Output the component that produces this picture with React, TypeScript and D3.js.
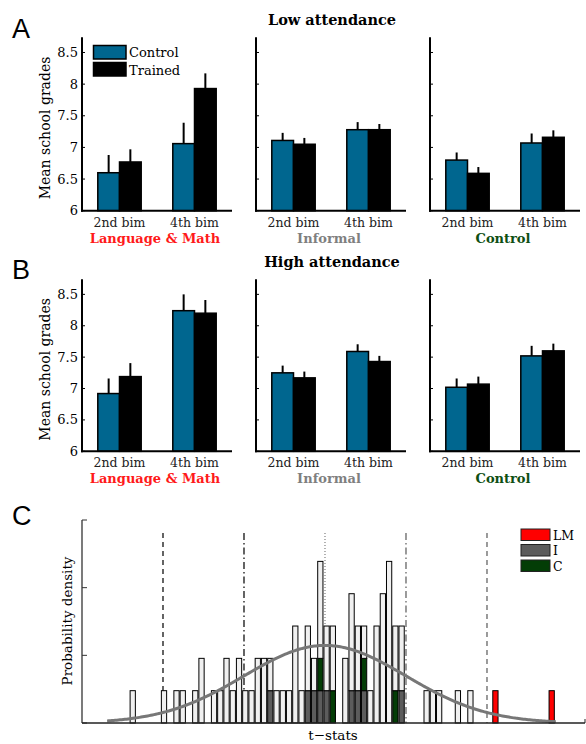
import * as d3 from 'd3';

// ---- panels A / B data ----
const bims = ['2nd bim', '4th bim'];
const groups = ['Language & Math', 'Informal', 'Control'];
const groupColors = ['#ff1a1a', '#7f7f7f', '#0e4f12'];
const gradeTicks = [6, 6.5, 7, 7.5, 8, 8.5];

// per group: [2nd bim, 4th bim]
const lowControlMean = [[6.6, 7.06], [7.11, 7.28], [6.8, 7.07]];
const lowControlSem = [[0.28, 0.33], [0.12, 0.12], [0.12, 0.15]];
const lowTrainedMean = [[6.77, 7.93], [7.05, 7.28], [6.59, 7.16]];
const lowTrainedSem = [[0.2, 0.24], [0.1, 0.09], [0.1, 0.11]];

const highControlMean = [[6.92, 8.24], [7.25, 7.59], [7.02, 7.52]];
const highControlSem = [[0.24, 0.26], [0.115, 0.115], [0.14, 0.16]];
const highTrainedMean = [[7.19, 8.2], [7.17, 7.43], [7.07, 7.6]];
const highTrainedSem = [[0.215, 0.21], [0.1, 0.09], [0.12, 0.115]];

// ---- panel C data (histogram of t-stats) ----
const binIndex = [0, 5, 7, 8, 10, 11, 13, 14, 15, 16, 17, 18, 19, 20, 21, 22, 23, 24, 25, 26, 27, 28, 29, 30, 31, 32, 34, 35, 36, 37, 38, 39, 40, 41, 42, 43, 47, 48, 49, 52, 54, 58, 67];
const binTotal = [1, 1, 1, 1, 1, 2, 1, 1, 2, 1, 2, 1, 1, 2, 2, 2, 1, 1, 1, 3, 1, 3, 2, 5, 3, 3, 2, 4, 3, 3, 1, 3, 4, 5, 3, 3, 1, 1, 1, 1, 1, 1, 1];
const binI = [0, 0, 0, 0, 0, 0, 0, 0, 0, 0, 0, 0, 0, 0, 0, 1, 0, 0, 0, 0, 0, 1, 1, 1, 1, 0, 0, 1, 1, 1, 0, 0, 0, 0, 0, 1, 0, 0, 0, 0, 0, 0, 0];
const binC = [0, 0, 0, 0, 0, 0, 0, 0, 0, 0, 0, 0, 0, 0, 0, 0, 0, 0, 0, 0, 0, 0, 0, 1, 0, 1, 0, 0, 0, 1, 0, 0, 0, 0, 1, 0, 0, 0, 0, 0, 0, 0, 0];
const binLM = [0, 0, 0, 0, 0, 0, 0, 0, 0, 0, 0, 0, 0, 0, 0, 0, 0, 0, 0, 0, 0, 0, 0, 0, 0, 0, 0, 0, 0, 0, 0, 0, 0, 0, 0, 0, 0, 0, 0, 0, 0, 1, 1];
const binStart = -2.411;
const binWidth = 0.0772;
const fitPeak = 2.4; // counts
const fitRange = [-2.69, 2.86];
const cLegend = ['LM', 'I', 'C'];
const cLegendColors = ['#ff0000', '#5c5c5c', '#033d06'];

const SERIF = '"DejaVu Serif", serif';
const SANS = '"Liberation Sans", Arial, sans-serif';
const CTRL_BLUE = '#00668f';

const panelLefts = [82, 256, 430];
const panelW = 150;
const barW = 21.7;

function BarRow({
  baseY,
  topY,
  controlMean,
  controlSem,
  trainedMean,
  trainedSem,
  showLegend,
}: {
  baseY: number;
  topY: number;
  controlMean: number[][];
  controlSem: number[][];
  trainedMean: number[][];
  trainedSem: number[][];
  showLegend: boolean;
}) {
  const y = d3.scaleLinear().domain([6, 8.74]).range([baseY, topY]);
  return (
    <g>
      <text
        transform={`translate(50,${(baseY + topY) / 2 + 4}) rotate(-90)`}
        textAnchor="middle"
        fontFamily={SERIF}
        fontSize={14}
      >
        Mean school grades
      </text>
      {gradeTicks.map((t) => (
        <text key={t} x={78} y={y(t) + 4.5} textAnchor="end" fontFamily={SERIF} fontSize={13}>
          {t}
        </text>
      ))}
      {groups.map((gName, gi) => {
        const left = panelLefts[gi];
        const x = d3.scalePoint<string>().domain(bims).range([left, left + panelW]).padding(0.5);
        return (
          <g key={gName}>
            {bims.map((b, bi) => {
              const cx = x(b) as number;
              const cm = controlMean[gi][bi];
              const tm = trainedMean[gi][bi];
              return (
                <g key={b}>
                  <line x1={cx - barW / 2} x2={cx - barW / 2} y1={y(cm)} y2={y(cm + controlSem[gi][bi])} stroke="#000" strokeWidth={2} />
                  <line x1={cx + barW / 2} x2={cx + barW / 2} y1={y(tm)} y2={y(tm + trainedSem[gi][bi])} stroke="#000" strokeWidth={2} />
                  <rect x={cx - barW} y={y(cm)} width={barW} height={y(6) - y(cm)} fill={CTRL_BLUE} stroke="#000" strokeWidth={1.5} />
                  <rect x={cx} y={y(tm)} width={barW} height={y(6) - y(tm)} fill="#000" stroke="#000" strokeWidth={1.5} />
                  <text x={cx} y={baseY + 16} textAnchor="middle" fontFamily={SERIF} fontSize={12.5} fill="#222">
                    {b}
                  </text>
                </g>
              );
            })}
            {gradeTicks.map((t) => (
              <line key={t} x1={left} x2={left + 3} y1={y(t)} y2={y(t)} stroke="#000" strokeWidth={1} />
            ))}
            <line x1={left} x2={left} y1={baseY + 1} y2={topY} stroke="#000" strokeWidth={2} />
            <line x1={left - 1} x2={left + panelW} y1={baseY} y2={baseY} stroke="#000" strokeWidth={2} />
            <text
              x={left + panelW / 2 - 2}
              y={baseY + 32}
              textAnchor="middle"
              fontFamily={SERIF}
              fontWeight="bold"
              fontSize={13}
              fill={groupColors[gi]}
            >
              {gName}
            </text>
          </g>
        );
      })}
      {showLegend && (
        <g>
          <rect x={93.5} y={45.5} width={32.5} height={13.5} fill={CTRL_BLUE} stroke="#000" strokeWidth={1.5} />
          <rect x={93.5} y={62.5} width={32.5} height={13.5} fill="#000" stroke="#000" strokeWidth={1.5} />
          <text x={129} y={57} fontFamily={SERIF} fontSize={13}>Control</text>
          <text x={129} y={74.5} fontFamily={SERIF} fontSize={13}>Trained</text>
        </g>
      )}
    </g>
  );
}

function HistPanel() {
  const x = d3.scaleLinear().domain([-3, 3.21]).range([82, 585]);
  const y = d3.scaleLinear().domain([0, 6.28]).range([723, 520]);
  const yTicks = d3.range(0, 4).map((i) => (6.28 * i) / 3);
  const bw = x(binWidth) - x(0);
  const curve = d3
    .line<number>()
    .x((t) => x(t))
    .y((t) => y(fitPeak * Math.exp((-t * t) / 2)))
    .curve(d3.curveBasis);
  const ts = d3.range(fitRange[0], fitRange[1], 0.02);
  const vlines = [
    { t: -2, dash: '5,4', color: '#111' },
    { t: -1, dash: '7,3,1.5,3', color: '#111' },
    { t: 0, dash: '1,2', color: '#888' },
    { t: 1, dash: '7,3,1.5,3', color: '#666' },
    { t: 2, dash: '5,4', color: '#666' },
  ];
  return (
    <g>
      <text
        transform={`translate(72,621) rotate(-90)`}
        textAnchor="middle"
        fontFamily={SERIF}
        fontSize={13.5}
      >
        Probability density
      </text>
      <text x={333} y={740} textAnchor="middle" fontFamily={SERIF} fontSize={13.5}>
        t−stats
      </text>
      {vlines.map((v) => (
        <line key={v.t} x1={x(v.t)} x2={x(v.t)} y1={533} y2={723} stroke={v.color} strokeWidth={1.3} strokeDasharray={v.dash} />
      ))}
      {binIndex.map((k, i) => {
        const x0 = x(binStart + k * binWidth) + 0.4;
        const w = bw - 1;
        const segs = [
          { from: 0, to: binI[i], fill: '#5c5c5c' },
          { from: binI[i], to: binI[i] + binC[i], fill: '#033d06' },
          { from: binI[i] + binC[i], to: binI[i] + binC[i] + binLM[i], fill: '#ff0000' },
          { from: binI[i] + binC[i] + binLM[i], to: binTotal[i], fill: '#f0f0f0' },
        ].filter((s) => s.to > s.from);
        return (
          <g key={k}>
            {segs.map((s, si) => (
              <rect key={si} x={x0} y={y(s.to)} width={w} height={y(s.from) - y(s.to)} fill={s.fill} stroke="#000" strokeWidth={1} />
            ))}
          </g>
        );
      })}
      <path d={curve(ts) ?? ''} fill="none" stroke="#777" strokeWidth={3} />
      {yTicks.map((t) => (
        <line key={t} x1={82} x2={87} y1={y(t)} y2={y(t)} stroke="#333" strokeWidth={1} />
      ))}
      <line x1={82} x2={82} y1={723} y2={520} stroke="#333" strokeWidth={1.3} />
      <line x1={82} x2={585} y1={723} y2={723} stroke="#222" strokeWidth={1.5} />
      <line x1={585} x2={585} y1={723} y2={719} stroke="#222" strokeWidth={1} />
      {cLegend.map((l, i) => (
        <g key={l}>
          <rect x={521} y={529 + i * 15.5} width={29} height={11.5} fill={cLegendColors[i]} stroke="#222" strokeWidth={1} />
          <text x={553} y={539.5 + i * 15.5} fontFamily={SERIF} fontSize={12.5}>
            {l}
          </text>
        </g>
      ))}
    </g>
  );
}

export default function App() {
  return (
    <svg
      width={586}
      height={744}
      viewBox="0 0 586 744"
      style={{ position: 'absolute', left: 0, top: 0, background: '#fff' }}
    >
      <text x={12} y={38} fontFamily={SANS} fontSize={27}>A</text>
      <text x={12} y={279} fontFamily={SANS} fontSize={27}>B</text>
      <text x={12} y={525} fontFamily={SANS} fontSize={27}>C</text>
      <text x={332} y={25} textAnchor="middle" fontFamily={SERIF} fontWeight="bold" fontSize={14.5}>
        Low attendance
      </text>
      <text x={332} y={267} textAnchor="middle" fontFamily={SERIF} fontWeight="bold" fontSize={14.5}>
        High attendance
      </text>
      <BarRow
        baseY={210.7}
        topY={37.3}
        controlMean={lowControlMean}
        controlSem={lowControlSem}
        trainedMean={lowTrainedMean}
        trainedSem={lowTrainedSem}
        showLegend
      />
      <BarRow
        baseY={451.3}
        topY={279.3}
        controlMean={highControlMean}
        controlSem={highControlSem}
        trainedMean={highTrainedMean}
        trainedSem={highTrainedSem}
        showLegend={false}
      />
      <HistPanel />
    </svg>
  );
}
